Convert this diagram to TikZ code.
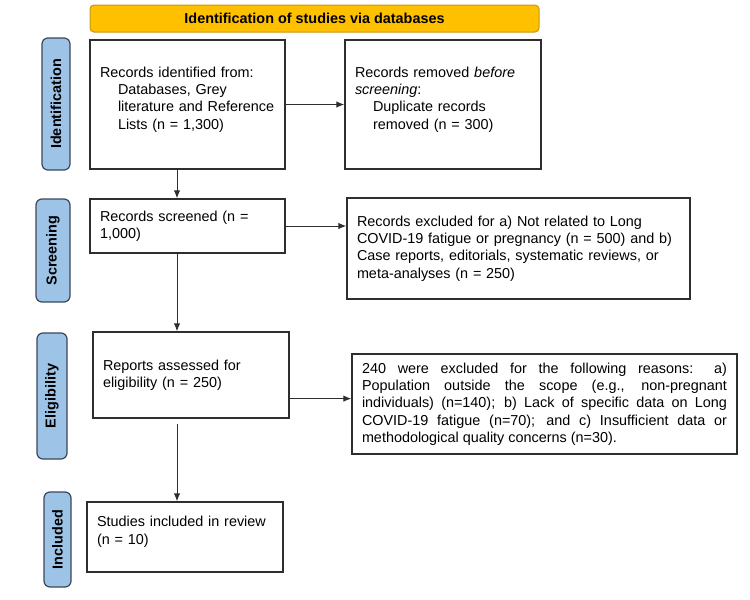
\documentclass[tikz,border=0pt]{standalone}
\usepackage{fontspec}
\setmainfont{Liberation Sans}
\usetikzlibrary{calc,arrows.meta}
\definecolor{bannerfill}{HTML}{FFC000}
\definecolor{bannerline}{HTML}{C8960C}
\definecolor{sidefill}{HTML}{9DC3E6}
\definecolor{sideline}{HTML}{3A475A}
\definecolor{boxline}{HTML}{2E2E2E}
\newcommand{\ind}{\hspace*{18pt}}

\begin{document}
\begin{tikzpicture}[
  x=1pt, y=-1pt,
  every node/.style={font=\fontsize{14.4}{17.3}\selectfont, inner sep=0pt},
  box/.style={draw=boxline, line width=1.4pt, align=left, inner xsep=10pt},
  side/.style={draw=sideline, fill=sidefill, line width=1.2pt, rounded corners=6pt,
  rotate=90, font=\fontsize{14.4}{17.3}\selectfont\bfseries},
  banner/.style={draw=bannerline, fill=bannerfill, line width=1pt, rounded corners=4pt,
  font=\fontsize{14.4}{17.3}\selectfont\bfseries},
  arr/.style={draw=boxline, line width=1pt, -{Latex[length=8pt,width=6.5pt]}}
]
\useasboundingbox (0,0) rectangle (750,600);

\node[banner, minimum width=449pt, minimum height=27pt] (title) at (314.5,18.5)
  {Identification of studies via databases};

\node[side, minimum width=132pt, minimum height=28pt] (stageid) at (56,104) {Identification};
\node[side, minimum width=103pt, minimum height=34pt] (stagescr) at (53,250.5) {Screening};
\node[side, minimum width=126pt, minimum height=30pt] (stageelig) at (52,396) {Eligibility};
\node[side, minimum width=95pt, minimum height=27pt] (stageinc) at (57.5,539.5) {Included};

\node[box, text width=175pt, minimum height=129pt] (identified) at (187.5,104.5)
  {Records identified from:\\ \ind Databases, Grey\\ \ind literature and Reference\\
  \ind Lists (n = 1,300)\\[-4pt]\mbox{}};
\node[box, text width=176pt, minimum height=129pt] (removed) at (443,104.5)
  {Records removed \textit{before}\\ \textit{screening}:\\ \ind Duplicate records\\
  \ind removed (n = 300)\\[-4pt]\mbox{}};
\node[box, text width=175pt, minimum height=54pt] (screened) at (187.5,226)
  {Records screened (n =\\ 1,000)};
\node[box, text width=323pt, minimum height=101pt] (excluded) at (518.5,248.5)
  {Records excluded for a) Not related to Long\\ COVID-19 fatigue or pregnancy (n = 500) and b)\\
  Case reports, editorials, systematic reviews, or\\ meta-analyses (n = 250)};
\node[box, text width=176pt, minimum height=86pt] (reports) at (191,375)
  {Reports assessed for\\ eligibility (n = 250)};
\node[box, align=justify, text width=365pt, minimum height=100pt] (reasons) at (544.5,404)
  {240 were excluded for the following reasons: a)\linebreak
  Population outside the scope (e.g., non-pregnant\linebreak
  individuals) (n=140); b) Lack of specific data on Long\linebreak
  COVID-19 fatigue (n=70); and c) Insufficient data or\linebreak
  methodological quality concerns (n=30).};
\node[box, text width=176pt, minimum height=70pt] (included) at (185,537)
  {Studies included in review\\ (n = 10)\\[-4pt]\mbox{}};

\coordinate (spine) at (177,0);
\coordinate (reportsout) at ($(reports.north east)!0.77!(reports.south east)$);

\draw[arr] (identified) -- (removed);
\draw[arr] (identified.south -| spine) -- (screened.north -| spine);
\draw[arr] (screened.east) -- (screened.east -| excluded.west);
\draw[arr] (screened.south -| spine) -- (reports.north -| spine);
\draw[arr] (reportsout) -- (reportsout -| reasons.west);
\draw[arr] ([yshift=-5pt]reports.south -| spine) -- (included.north -| spine);

\end{tikzpicture}
\end{document}
